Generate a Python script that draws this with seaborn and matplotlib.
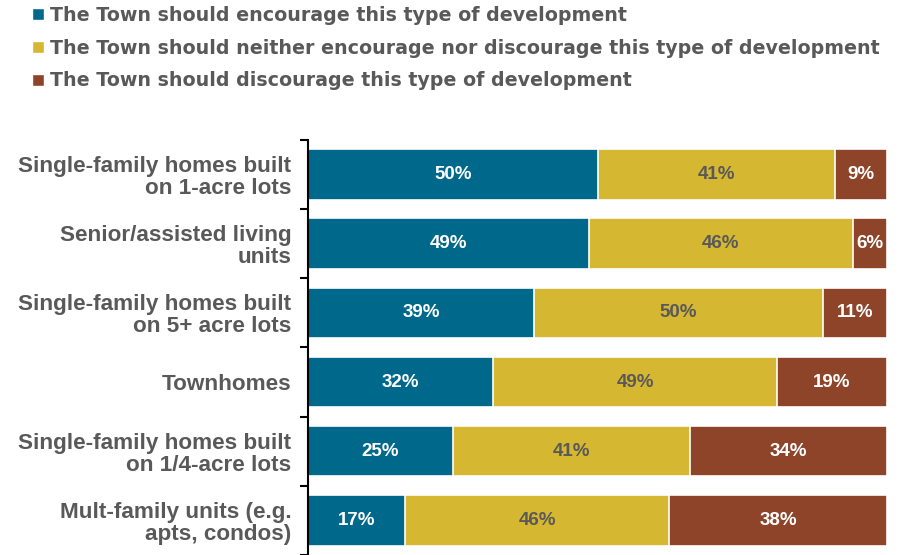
import numpy as np
import pandas as pd
import seaborn as sns
import matplotlib.pyplot as plt
from matplotlib.patches import Patch

# Survey responses (percent of respondents)
categories = [
    "Single-family homes built\non 1-acre lots",
    "Senior/assisted living\nunits",
    "Single-family homes built\non 5+ acre lots",
    "Townhomes",
    "Single-family homes built\non 1/4-acre lots",
    "Mult-family units (e.g.\napts, condos)",
]
encourage = [50, 49, 39, 32, 25, 17]
neither = [41, 46, 50, 49, 41, 46]
discourage = [9, 6, 11, 19, 34, 38]

series_names = [
    "The Town should encourage this type of development",
    "The Town should neither encourage nor discourage this type of development",
    "The Town should discourage this type of development",
]
colors = ["#00688B", "#D5B731", "#8E4429"]
label_colors = ["white", "#595959", "white"]
gray = "#595959"

df = pd.DataFrame({"cat": categories, "enc": encourage, "nei": neither, "dis": discourage})
total = df[["enc", "nei", "dis"]].sum(axis=1)
# bars span the full width (shares of 100)
df["c1"] = df["enc"] / total * 100
df["c2"] = (df["enc"] + df["nei"]) / total * 100
df["c3"] = 100.0

sns.set_style("white")
plt.rcParams["font.family"] = ["Liberation Sans", "DejaVu Sans"]

fig = plt.figure(figsize=(9.03, 5.55), dpi=100)
ax = fig.add_axes([308 / 903, 0.0, 579 / 903, 1 - 139.85 / 555])

# draw cumulative bars back to front to get stacked look
for col, c in zip(["c3", "c2", "c1"], colors[::-1]):
    sns.barplot(data=df, x=col, y="cat", color=c, orient="h", width=0.73,
                edgecolor="white", linewidth=1.2, ax=ax, saturation=1)

# percent labels in the middle of each segment
starts = [np.zeros(len(df)), df["c1"].values, df["c2"].values]
ends = [df["c1"].values, df["c2"].values, df["c3"].values]
vals = [encourage, neither, discourage]
for s, e, v, lc in zip(starts, ends, vals, label_colors):
    for i in range(len(df)):
        ax.text((s[i] + e[i]) / 2, i, f"{v[i]}%", ha="center", va="center",
                color=lc, fontsize=13.5, fontweight="bold")

ax.set_xlim(0, 100)
ax.set_ylim(5.405, -0.5)
ax.set_xlabel("")
ax.set_ylabel("")
ax.set_xticks([])
ax.set_yticks(range(len(categories)))
ax.set_yticklabels(categories, fontsize=16.2, fontweight="bold", color=gray,
                   linespacing=1.05)
ax.set_yticks(np.arange(-0.5, len(categories), 1), minor=True)
ax.tick_params(axis="y", which="major", length=0, pad=12)
ax.tick_params(axis="y", which="minor", length=6, width=1.5, color="black", left=True)
for side in ["top", "right", "bottom"]:
    ax.spines[side].set_visible(False)
ax.spines["left"].set_color("black")
ax.spines["left"].set_linewidth(1.5)

handles = [Patch(facecolor=c, edgecolor="white") for c in colors]
fig.legend(handles, series_names, loc="upper left", bbox_to_anchor=(15 / 903, 1.02),
           frameon=False, handlelength=0.62, handleheight=0.62, handletextpad=0.3,
           labelspacing=0.72, prop={"family": "DejaVu Sans", "weight": "bold", "size": 13.7},
           labelcolor=gray)

fig.savefig("out.png", dpi=100)
